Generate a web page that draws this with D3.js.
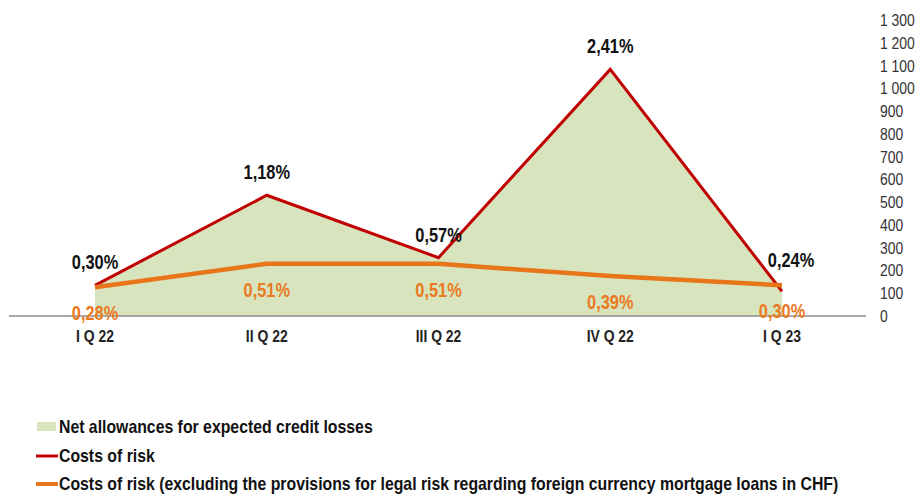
<!DOCTYPE html>
<style>
    body { margin: 0; background: #fff; }
    svg { font-family: "Liberation Sans", Arial, sans-serif; }
    .tick-label { font-size: 17px; fill: #333; }
    .cat-label { font-size: 17px; font-weight: bold; fill: #222; }
    .pct-red { font-size: 20px; font-weight: bold; fill: #111; }
    .pct-orange { font-size: 20px; font-weight: bold; fill: #ea7a22; }
    .legend text { font-size: 18.5px; font-weight: bold; fill: #111; }
</style>
<body>
<script src="https://d3js.org/d3.v7.min.js"></script>
<script>
    // quarters
    var quarters = ["I Q 22", "II Q 22", "III Q 22", "IV Q 22", "I Q 23"];
    // net allowances for expected credit losses (PLN m, right axis)
    var allowances = [128, 527, 255, 1085, 122];
    // costs of risk, %
    var costOfRisk = [0.30, 1.18, 0.57, 2.41, 0.24];
    // costs of risk excluding CHF legal risk provisions, %
    var costOfRiskExCHF = [0.28, 0.51, 0.51, 0.39, 0.30];
    var ticks = d3.range(0, 1301, 100);
    var legendNames = [
        "Net allowances for expected credit losses",
        "Costs of risk",
        "Costs of risk (excluding the provisions for legal risk regarding foreign currency mortgage loans in CHF)"
    ];

    var width = 922, height = 495;
    var green = "#d7e4bd", red = "#c00000", orange = "#e8751a";
    var squeeze = 0.82; // narrow font look

    var svg = d3.select("body").append("svg")
        .attr("width", width)
        .attr("height", height);

    function place(x, y, k) {
        return "translate(" + x + "," + y + ") scale(" + (k || squeeze) + ",1)";
    }

    var x = d3.scalePoint()
        .domain(quarters)
        .range([95, 782]);

    // right axis (PLN m)
    var y = d3.scaleLinear()
        .domain([0, 1300])
        .range([316, 20]);

    // hidden percentage axis
    var yPct = d3.scaleLinear()
        .domain([0, 3])
        .range([316, 9]);

    var rows = quarters.map(function(q, i) {
        return { q: q, a: allowances[i], r: costOfRisk[i], o: costOfRiskExCHF[i] };
    });

    // green area
    svg.append("path")
        .datum(rows)
        .attr("fill", green)
        .attr("d", d3.area()
            .x(function(d) { return x(d.q); })
            .y0(y(0))
            .y1(function(d) { return y(d.a); }));

    // baseline
    svg.append("line")
        .attr("x1", 9).attr("x2", 866)
        .attr("y1", y(0)).attr("y2", y(0))
        .attr("stroke", "#8c8c8c")
        .attr("stroke-width", 1.5);

    // right tick labels
    svg.append("g")
        .selectAll("text")
        .data(ticks)
        .enter().append("text")
          .attr("class", "tick-label")
          .attr("transform", function(d) { return place(880, y(d)); })
          .attr("dy", "0.35em")
          .text(function(d) { return d3.format(",")(d).replace(",", " "); });

    // category labels
    svg.append("g")
        .selectAll("text")
        .data(quarters)
        .enter().append("text")
          .attr("class", "cat-label")
          .attr("transform", function(d) { return place(x(d), 342); })
          .attr("text-anchor", "middle")
          .text(function(d) { return d; });

    // red line
    svg.append("path")
        .datum(rows)
        .attr("fill", "none")
        .attr("stroke", red)
        .attr("stroke-width", 3)
        .attr("d", d3.line()
            .x(function(d) { return x(d.q); })
            .y(function(d) { return yPct(d.r); }));

    // orange line
    svg.append("path")
        .datum(rows)
        .attr("fill", "none")
        .attr("stroke", orange)
        .attr("stroke-width", 4.5)
        .attr("d", d3.line()
            .x(function(d) { return x(d.q); })
            .y(function(d) { return yPct(d.o); }));

    var fmt = function(v) { return d3.format(".2f")(v).replace(".", ",") + "%"; };

    svg.append("g")
        .selectAll("text")
        .data(rows)
        .enter().append("text")
          .attr("class", "pct-red")
          .attr("transform", function(d, i) {
              return place(x(d.q) + (i === 4 ? 9 : 0), yPct(d.r) - (i === 4 ? 31 : 23));
          })
          .attr("dy", "0.35em")
          .attr("text-anchor", "middle")
          .text(function(d) { return fmt(d.r); });

    svg.append("g")
        .selectAll("text")
        .data(rows)
        .enter().append("text")
          .attr("class", "pct-orange")
          .attr("transform", function(d) { return place(x(d.q), yPct(d.o) + 26); })
          .attr("dy", "0.35em")
          .attr("text-anchor", "middle")
          .text(function(d) { return fmt(d.o); });

    // legend
    var legend = svg.append("g").attr("class", "legend");
    var ly = [427, 456, 484];
    legend.append("rect")
        .attr("x", 37).attr("y", ly[0] - 5)
        .attr("width", 19).attr("height", 9)
        .attr("fill", green);
    legend.append("line")
        .attr("x1", 36).attr("x2", 58)
        .attr("y1", ly[1]).attr("y2", ly[1])
        .attr("stroke", red).attr("stroke-width", 3);
    legend.append("line")
        .attr("x1", 36).attr("x2", 58)
        .attr("y1", ly[2]).attr("y2", ly[2])
        .attr("stroke", orange).attr("stroke-width", 4);
    legend.selectAll("text")
        .data(legendNames)
        .enter().append("text")
          .attr("transform", function(d, i) { return place(59, ly[i], 0.855); })
          .attr("dy", "0.33em")
          .text(function(d) { return d; });
</script>
</body>
